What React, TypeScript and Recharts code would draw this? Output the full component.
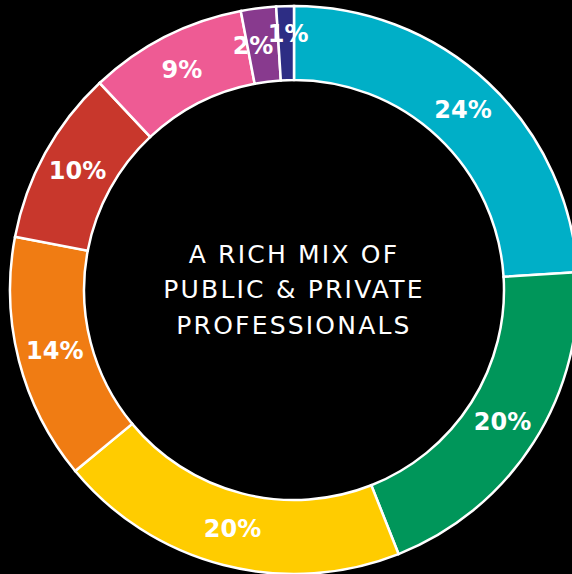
import React from "react";
import { PieChart, Pie, Cell } from "recharts";

const categories = ["A", "B", "C", "D", "E", "F", "G", "H"];
const values = [24, 20, 20, 14, 10, 9, 2, 1];
const colors = ["#00AFC7", "#00965A", "#FFCC00", "#F07C13", "#C8372C", "#EE5B94", "#883A8E", "#2D2D84"];
const centerLines = ["A RICH MIX OF", "PUBLIC & PRIVATE", "PROFESSIONALS"];

const data = categories.map((c, i) => ({ name: c, value: values[i] }));

// small nudges so the two tiny slices' labels sit like the reference
const labelNudge: Record<number, [number, number]> = { 6: [-10, 1], 7: [2, -9] };

const RAD = Math.PI / 180;

const renderLabel = (props: any) => {
  const { cx, cy, midAngle, innerRadius, outerRadius, value, index } = props;
  const r = (innerRadius + outerRadius) / 2;
  const n = labelNudge[index] || [0, 0];
  const x = cx + r * Math.cos(-midAngle * RAD) + n[0];
  const y = cy + r * Math.sin(-midAngle * RAD) + n[1];
  return (
    <text
      x={x}
      y={y}
      fill="#ffffff"
      textAnchor="middle"
      dominantBaseline="central"
      fontFamily="DejaVu Sans"
      fontWeight="bold"
      fontSize={24}
    >
      {`${value}%`}
    </text>
  );
};

export default function App() {
  const cx = 294;
  const cy = 290;
  return (
    <div
      style={{
        position: "absolute",
        left: 0,
        top: 0,
        width: 572,
        height: 574,
        background: "#000",
        overflow: "hidden",
      }}
    >
      <PieChart width={572} height={574} margin={{ top: 0, right: 0, bottom: 0, left: 0 }}>
        <Pie
          data={data}
          dataKey="value"
          nameKey="name"
          cx={cx}
          cy={cy}
          innerRadius={210}
          outerRadius={284}
          startAngle={90}
          endAngle={-270}
          stroke="#ffffff"
          strokeWidth={2.5}
          label={renderLabel}
          labelLine={false}
          isAnimationActive={false}
        >
          {data.map((d, i) => (
            <Cell key={d.name} fill={colors[i]} />
          ))}
        </Pie>
        {centerLines.map((line, i) => (
          <text
            key={line}
            x={cx}
            y={cy - 36 + i * 35.5}
            fill="#ffffff"
            textAnchor="middle"
            dominantBaseline="central"
            fontFamily="DejaVu Sans"
            fontSize={25}
            letterSpacing={2.2}
          >
            {line}
          </text>
        ))}
      </PieChart>
    </div>
  );
}
